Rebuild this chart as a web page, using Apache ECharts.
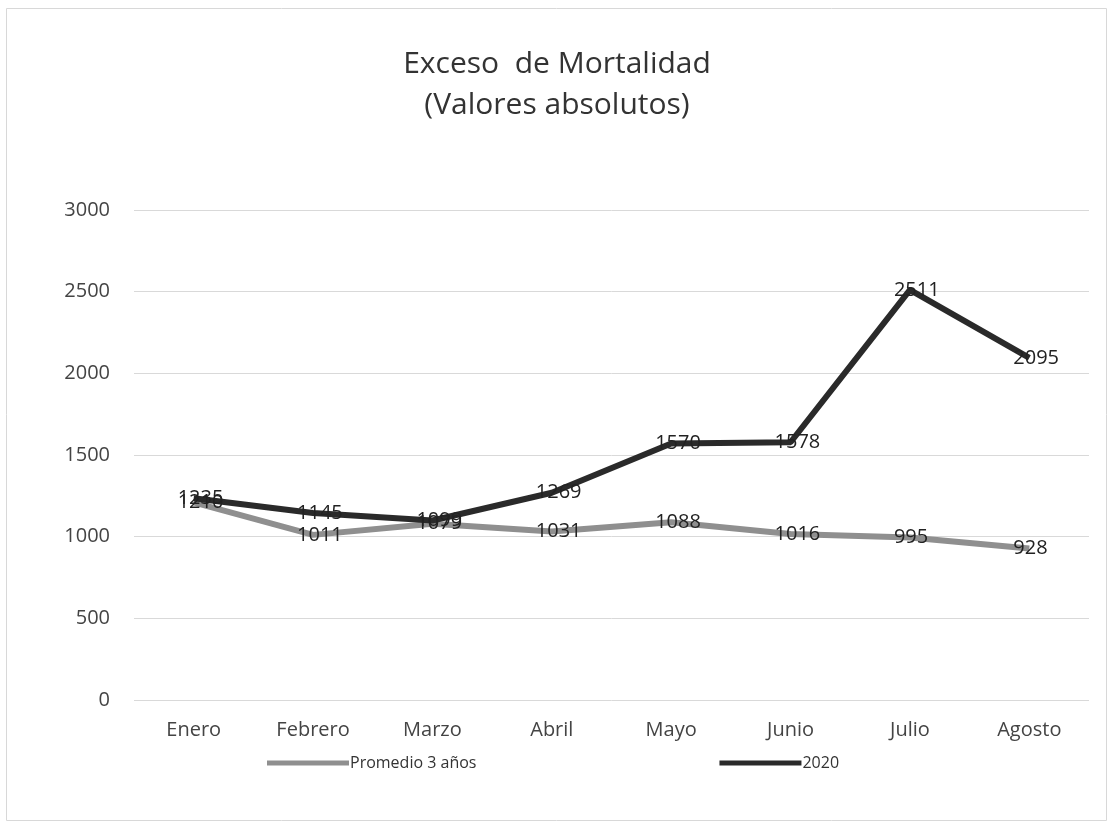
<!DOCTYPE html>
<html><head><meta charset="utf-8">
<script src="https://cdn.jsdelivr.net/npm/echarts@6/dist/echarts.min.js"></script>
<style>html,body{margin:0;padding:0;background:#fff}#c{width:1114px;height:838px}</style>
</head><body><div id="c"></div>
<script>
const categories = ['Enero','Febrero','Marzo','Abril','Mayo','Junio','Julio','Agosto'];
const promedio = [1210, 1011, 1079, 1031, 1088, 1016, 995, 928];
const y2020 = [1235, 1145, 1099, 1269, 1570, 1578, 2511, 2095];
const yTicks = [0, 500, 1000, 1500, 2000, 2500, 3000];
const FONT = '"Open Sans", "Noto Sans", sans-serif';
const chart = echarts.init(document.getElementById('c'));
const lbl = {show: true, position: 'right', distance: -16, fontFamily: FONT, fontSize: 20, color: '#222'};
chart.setOption({
  backgroundColor: '#fff',
  animation: false,
  graphic: [{type:'rect', shape:{x:6.5,y:8.5,width:1100,height:812}, style:{fill:'none', stroke:'#d8d8d8', lineWidth:1}}],
  title: {
    text: 'Exceso  de Mortalidad\n(Valores absolutos)',
    left: 'center', top: 39,
    textStyle: {fontFamily: FONT, fontSize: 30, fontWeight: 'normal', color: '#333', lineHeight: 41}
  },
  legend: {
    bottom: 62, left: 262,
    itemGap: 243, itemWidth: 82, itemHeight: 5, icon: 'rect',
    textStyle: {fontFamily: FONT, fontSize: 16, color: '#333', padding: [0,0,0,-4]},
    data: ['Promedio 3 años', '2020']
  },
  grid: {left: 134, right: 25, top: 210, bottom: 138},
  xAxis: {
    type: 'category', data: categories, boundaryGap: true,
    axisLine: {show: false}, axisTick: {show: false},
    axisLabel: {fontFamily: FONT, fontSize: 20, color: '#444', margin: 20}
  },
  yAxis: {
    type: 'value', min: 0, max: 3000, interval: 500,
    axisLine: {show: false}, axisTick: {show: false},
    axisLabel: {fontFamily: FONT, fontSize: 20, color: '#444', margin: 24,
      formatter: v => yTicks.includes(v) ? String(v) : ''},
    splitLine: {lineStyle: {color: '#d9d9d9', width: 1}}
  },
  series: [
    {name: 'Promedio 3 años', type: 'line', data: promedio, symbol: 'circle', symbolSize: 0, showSymbol: true,
     itemStyle: {color: '#8f8f8f'}, lineStyle: {color: '#8f8f8f', width: 6}, label: lbl},
    {name: '2020', type: 'line', data: y2020, symbol: 'circle', symbolSize: 0, showSymbol: true,
     itemStyle: {color: '#2a2a2a'}, lineStyle: {color: '#2a2a2a', width: 6}, label: lbl}
  ]
});
</script></body></html>
